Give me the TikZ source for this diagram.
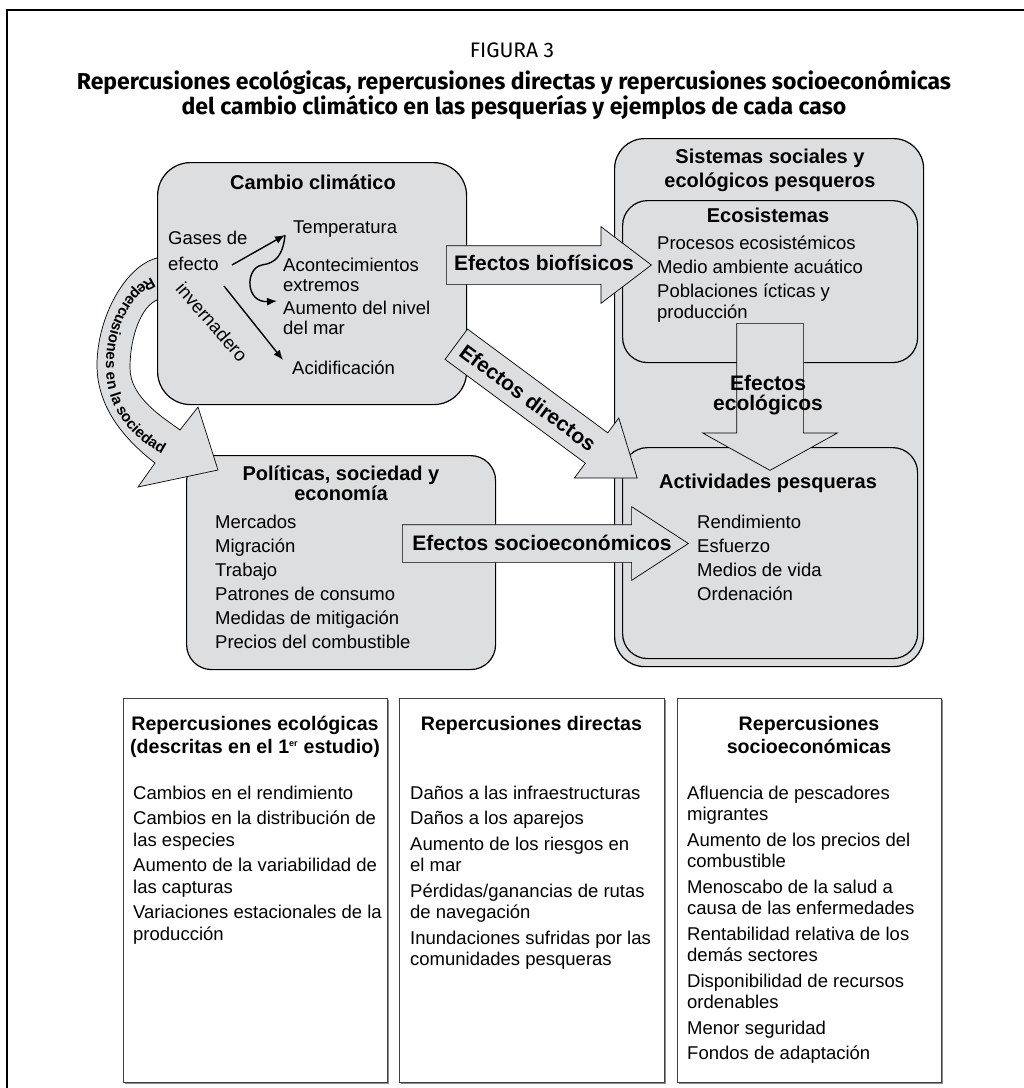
\documentclass[tikz,border=0pt]{standalone}
\usepackage{fontspec}
\setmainfont{Liberation Sans}
\newfontfamily\titlefam{Fira Sans}
\usetikzlibrary{arrows.meta,shapes.arrows,decorations.text,shadows}
\definecolor{boxgray}{RGB}{221,222,224}
\newcommand{\topstrut}{\rule{0pt}{17pt}}
\newcommand{\arcfont}{\bfseries\fontsize{15}{15}\selectfont}

\begin{document}
\begin{tikzpicture}[x=1pt,y=-1pt,
          box/.style={draw,fill=boxgray,line width=1.2,rounded corners=25,inner sep=0},
          txt/.style={inner sep=0,font=\fontsize{18.5}{21.5}\selectfont,align=left},
          boxtitle/.style={inner sep=0,font=\bfseries\fontsize{20}{24}\selectfont,align=center},
          bigarrow/.style={single arrow,draw,fill=boxgray,line width=0.7,inner sep=0,anchor=tail},
          arrowlab/.style={inner sep=0,font=\bfseries\fontsize{21}{20}\selectfont,align=center},
          repbox/.style={draw=black!75,fill=white,line width=1,inner sep=0,
                         general shadow={fill=black!45,shadow xshift=1.2pt,shadow yshift=-1.2pt}},
          smallarrow/.style={->,line width=1.4,>={Latex[length=10pt,width=8pt]}}
        ]
        \useasboundingbox (0,0) rectangle (1024,1088);

        %frame and title
        \draw[line width=1.3] (1030,10) -| (7,1095);
        \node[inner sep=0,font=\titlefam\fontsize{21}{23}\selectfont,anchor=base] (fig) at (512,57) {FIGURA 3};
        \node[inner sep=0,font=\titlefam\bfseries\fontsize{23}{23}\selectfont,align=center,anchor=north] (title) at (514,70)
          {\topstrut Repercusiones ecológicas, repercusiones directas y repercusiones socioeconómicas\\
           del cambio climático en las pesquerías y ejemplos de cada caso};

        %sistemas sociales y ecologicos
        \node[box,rounded corners=30,minimum width=309,minimum height=528,anchor=north west] (sist) at (614,138) {};
        \node[boxtitle,anchor=north] (sisttit) at (770,146) {\topstrut Sistemas sociales y\\ecológicos pesqueros};
        \node[box,minimum width=295,minimum height=162,anchor=north west] (eco) at (622,200) {};
        \node[boxtitle,anchor=base] (ecotit) at (768,222) {Ecosistemas};
        \node[txt,anchor=north west] (ecotxt) at (657,232)
          {\topstrut Procesos ecosistémicos\\[2.5pt]Medio ambiente acuático\\[2.5pt]Poblaciones ícticas y\\producción};
        \node[box,minimum width=295,minimum height=211,anchor=north west] (act) at (622,447) {};
        \node[boxtitle,anchor=base] (acttit) at (768,488) {Actividades pesqueras};
        \node[txt,anchor=north west] (acttxt) at (697,511)
          {\topstrut Rendimiento\\[2.5pt]Esfuerzo\\[2.5pt]Medios de vida\\[2.5pt]Ordenación};

        %politicas
        \node[box,minimum width=309,minimum height=214,anchor=north west] (pol) at (186,455) {};
        \node[boxtitle,font=\bfseries\fontsize{20}{20}\selectfont,anchor=north] (poltit) at (341,463)
          {\topstrut Políticas, sociedad y\\economía};
        \node[txt,anchor=north west] (poltxt) at (215,511)
          {\topstrut Mercados\\[2.5pt]Migración\\[2.5pt]Trabajo\\[2.5pt]Patrones de consumo\\[2.5pt]Medidas de mitigación\\[2.5pt]Precios del combustible};

        %repercusiones en la sociedad
        \draw[fill=boxgray,line width=0.7] (172,255) -- (157,258) .. controls (125,266) and (97,318) .. (97,365)
          .. controls (97,410) and (128,442) .. (155,463) -- (138,487) -- (218,470) -- (198,407) -- (180,430)
          .. controls (164,418) and (130,398) .. (130,368) .. controls (130,335) and (142,306) .. (157,300)
          -- (172,298) -- cycle;
        \path[decorate,decoration={text along path,text align=center,text={|\arcfont|Repercusiones en la sociedad}}]
          (160,275) .. controls (124,284) and (106,325) .. (106,367) .. controls (106,412) and (135,442) .. (170,458);

        %cambio climatico
        \node[box,rounded corners=33,minimum width=309,minimum height=242,anchor=north west] (cambio) at (157,162) {};
        \node[boxtitle,anchor=base] (camtit) at (313,189) {Cambio climático};
        \node[txt,anchor=base west] (gases) at (168,244) {Gases de};
        \node[txt,anchor=base west] (efecto) at (168,270) {efecto};
        \node[txt,rotate=-49] (inv) at (212,322) {invernadero};
        \node[txt,anchor=base west] (temp) at (293,233) {Temperatura};
        \node[txt,font=\fontsize{18.5}{20}\selectfont,anchor=north west] (acont) at (283,254) {\topstrut Acontecimientos\\extremos};
        \node[txt,font=\fontsize{18.5}{20}\selectfont,anchor=north west] (aum) at (283,297) {\topstrut Aumento del nivel\\del mar};
        \node[txt,anchor=base west] (acid) at (292,374) {Acidificación};
        \coordinate (g1) at (232,265);
        \coordinate (g2) at (224,286);
        \coordinate (t1) at (285,235);
        \coordinate (t2) at (283,360);
        \coordinate (t3) at (277,301);
        \draw[smallarrow] (g1) -- (t1);
        \draw[smallarrow] (g2) -- (t2);
        \draw[smallarrow] (t1) .. controls (283,255) and (276,263) .. (262,265) .. controls (245,268) and (245,303) .. (t3);

        %efectos
        \node[bigarrow,minimum height=205,inner ysep=19,single arrow head extend=19,single arrow tip angle=74.5] (bio) at (446,265) {};
        \node[arrowlab,anchor=base] (biolab) at (544,270) {Efectos biofísicos};
        \node[bigarrow,rotate=-36.5,minimum height=225,inner ysep=18.5,single arrow head extend=18.5,single arrow tip angle=73] (dir) at (456,344) {};
        \node[arrowlab,rotate=-36.5] (dirlab) at (528,398) {Efectos directos};
        \node[bigarrow,rotate=-90,minimum height=147,inner ysep=33,single arrow head extend=34,single arrow tip angle=122] (ecol) at (770,323) {};
        \node[arrowlab,anchor=north] (ecollab) at (768,373) {\topstrut Efectos\\ecológicos};
        \node[bigarrow,minimum height=286,inner ysep=18.5,single arrow head extend=18,single arrow tip angle=66] (soc) at (402,543.5) {};
        \node[arrowlab,anchor=base] (soclab) at (542,550) {Efectos socioeconómicos};

        %repercusiones
        \node[repbox,minimum width=264,minimum height=384,anchor=north west] (repeco) at (123,698) {};
        \node[repbox,minimum width=265,minimum height=384,anchor=north west] (repdir) at (399,698) {};
        \node[repbox,minimum width=264,minimum height=384,anchor=north west] (repsoc) at (677,698) {};
        \node[boxtitle,font=\bfseries\fontsize{19.6}{23.5}\selectfont,anchor=north] (repecotit) at (255,713)
          {\topstrut Repercusiones ecológicas\\(descritas en el 1\textsuperscript{\fontsize{9}{9}\selectfont er} estudio)};
        \node[boxtitle,font=\bfseries\fontsize{19.6}{23.5}\selectfont,anchor=north] (repdirtit) at (531.5,713) {\topstrut Repercusiones directas};
        \node[boxtitle,font=\bfseries\fontsize{19.6}{23.5}\selectfont,anchor=north] (repsoctit) at (809,713)
          {\topstrut Repercusiones\\socioeconómicas};
        \node[txt,anchor=north west] (repecotxt) at (133,782)
          {\topstrut Cambios en el rendimiento\\[4pt]Cambios en la distribución de\\las especies\\[4pt]Aumento de la variabilidad de\\las capturas\\[4pt]Variaciones estacionales de la\\producción};
        \node[txt,anchor=north west] (repdirtxt) at (410,782)
          {\topstrut Daños a las infraestructuras\\[4pt]Daños a los aparejos\\[4pt]Aumento de los riesgos en\\el mar\\[4pt]Pérdidas/ganancias de rutas\\de navegación\\[4pt]Inundaciones sufridas por las\\comunidades pesqueras};
        \node[txt,anchor=north west] (repsoctxt) at (687,782)
          {\topstrut Afluencia de pescadores\\migrantes\\[4pt]Aumento de los precios del\\combustible\\[4pt]Menoscabo de la salud a\\causa de las enfermedades\\[4pt]Rentabilidad relativa de los\\demás sectores\\[4pt]Disponibilidad de recursos\\ordenables\\[4pt]Menor seguridad\\[4pt]Fondos de adaptación};
    \end{tikzpicture}
\end{document}
